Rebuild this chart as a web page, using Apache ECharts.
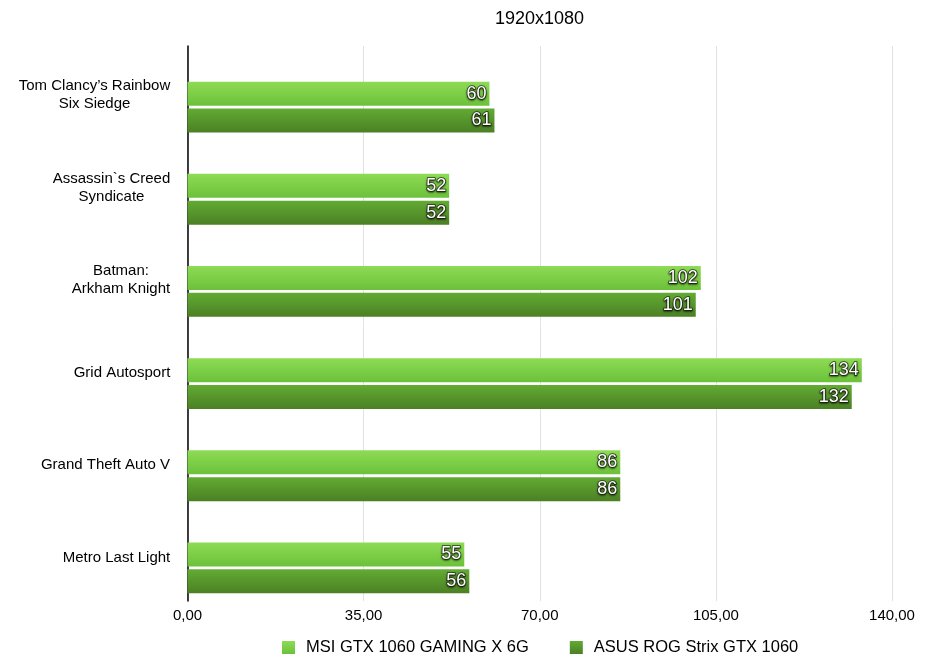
<!DOCTYPE html>
<html>
<head>
<meta charset="utf-8">
<script src="https://cdn.jsdelivr.net/npm/echarts@6/dist/echarts.min.js"></script>
<style>
  html, body { margin: 0; padding: 0; background: #fff; }
  #chart { width: 925px; height: 661px; }
</style>
</head>
<body>
<div id="chart"></div>
<script>
// game titles (top to bottom)
const games = [
  "Tom Clancy’s Rainbow\nSix Siedge",
  "Assassin`s Creed\nSyndicate",
  "Batman:\nArkham Knight",
  "Grid Autosport",
  "Grand Theft Auto V",
  "Metro Last Light"
];
const seriesNames = ["MSI GTX 1060 GAMING X 6G", "ASUS ROG Strix GTX 1060"];
const msiFps = [60, 52, 102, 134, 86, 55];
const asusFps = [61, 52, 101, 132, 86, 56];
const xTicks = [0, 35, 70, 105, 140];

const FONT = "Liberation Sans, Arial, Helvetica, sans-serif";
const LABEL_SIZE = 15;

// measure each label so its lines can be centred inside a right-aligned block
const ctx = document.createElement('canvas').getContext('2d');
ctx.font = LABEL_SIZE + 'px ' + FONT;
const blockWidth = games.map(g => Math.ceil(Math.max(...g.split('\n').map(s => ctx.measureText(s).width))));

const rich = {};
games.forEach((g, i) => {
  rich['w' + i] = { width: blockWidth[i], align: 'center', fontFamily: FONT, fontSize: LABEL_SIZE, color: '#000', lineHeight: 18 };
});

const chart = echarts.init(document.getElementById('chart'));

const grad = (top, bottom) => new echarts.graphic.LinearGradient(0, 0, 0, 1, [
  { offset: 0, color: top },
  { offset: 1, color: bottom }
]);

const barLabel = {
  show: true,
  position: 'insideRight',
  distance: 3,
  color: '#fff',
  fontFamily: FONT,
  fontSize: 18,
  textBorderColor: 'rgba(30,40,20,0.85)',
  textBorderWidth: 1.5,
  textShadowColor: 'rgba(0,0,0,0.6)',
  textShadowBlur: 2,
  textShadowOffsetY: 1
};

const option = {
  backgroundColor: '#fff',
  animation: false,
  title: {
    text: '1920x1080',
    left: 495,
    top: 10,
    padding: 0,
    textStyle: { fontFamily: FONT, fontSize: 18, fontWeight: 'normal', color: '#000' }
  },
  legend: {
    left: 282,
    top: 639,
    padding: 0,
    icon: 'rect',
    itemWidth: 13,
    itemHeight: 13,
    itemGap: 41,
    data: seriesNames,
    textStyle: { fontFamily: FONT, fontSize: 16.5, color: '#000', padding: [0, 0, 0, 6] }
  },
  grid: [
    { left: 187.5, right: 33, top: 46, bottom: 60 },
    { left: 187.5, right: 33, top: 61, bottom: 47 }
  ],
  xAxis: [
    {
      gridIndex: 0,
      type: 'value',
      min: xTicks[0],
      max: xTicks[xTicks.length - 1],
      interval: 35,
      axisLine: { show: false },
      axisTick: { show: false },
      splitLine: { show: true, lineStyle: { color: '#e2e2e2', width: 1 } },
      axisLabel: {
        margin: 7,
        fontFamily: FONT,
        fontSize: 15,
        color: '#000',
        formatter: v => v.toFixed(2).replace('.', ',')
      }
    },
    {
      gridIndex: 1,
      type: 'value',
      min: xTicks[0],
      max: xTicks[xTicks.length - 1],
      show: false
    }
  ],
  yAxis: [
    {
      gridIndex: 0,
      type: 'category',
      inverse: true,
      data: games,
      axisLine: { show: true, lineStyle: { color: '#000', width: 1.5 } },
      axisTick: { show: false },
      axisLabel: {
        margin: 17,
        padding: [6, 0, 0, 0],
        fontFamily: FONT,
        fontSize: LABEL_SIZE,
        color: '#000',
        lineHeight: 18,
        formatter: (v, i) => v.split('\n').map(s => '{w' + i + '|' + s + '}').join('\n'),
        rich: rich
      }
    },
    {
      gridIndex: 1,
      type: 'category',
      inverse: true,
      data: games,
      show: false
    }
  ],
  series: [
    {
      name: seriesNames[0],
      type: 'bar',
      xAxisIndex: 1,
      yAxisIndex: 1,
      data: msiFps,
      barWidth: 24,
      barGap: '12%',
      itemStyle: { color: grad('#8edb55', '#6cc13a') },
      label: barLabel
    },
    {
      name: seriesNames[1],
      type: 'bar',
      xAxisIndex: 1,
      yAxisIndex: 1,
      data: asusFps,
      barWidth: 24,
      itemStyle: { color: grad('#62ab33', '#4b8024') },
      label: barLabel
    }
  ]
};

chart.setOption(option);
</script>
</body>
</html>
